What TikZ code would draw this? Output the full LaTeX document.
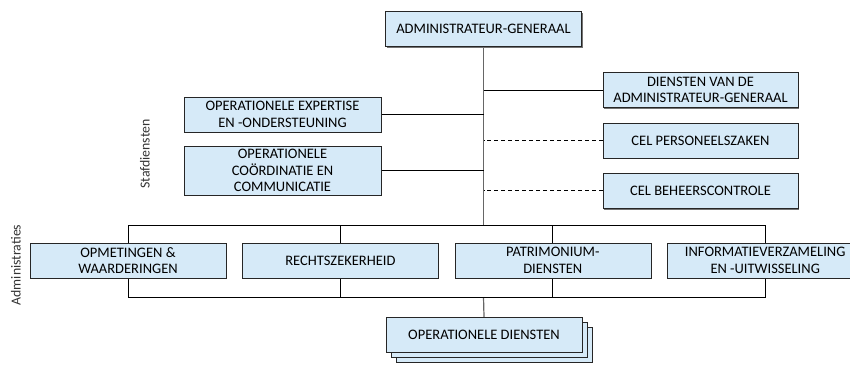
\documentclass[tikz,border=0pt]{standalone}
\usepackage{fontspec}
\setmainfont{Carlito}
\usepackage{xcolor}
\usepackage{tikz}
\usetikzlibrary{positioning,shadows,backgrounds}
\definecolor{boxblue}{RGB}{214,234,248}
\tikzset{
  org/.style    ={draw=black!85, rectangle, align=center, fill=boxblue, inner sep=0pt, minimum height=35pt, minimum width=196pt, font=\fontsize{14.5}{16.5}\selectfont, drop shadow={shadow xshift=1pt, shadow yshift=-1.2pt, fill=black!55, opacity=1}},
  stack/.style  ={draw=black!85, rectangle, align=center, fill=boxblue, inner sep=0pt, minimum height=35pt, minimum width=196pt, font=\fontsize{14.5}{16.5}\selectfont, double copy shadow={shadow xshift=5pt, shadow yshift=-5pt}},
  grp/.style    ={rotate=90, font=\fontsize{13.8}{15}\selectfont, text=black!80},
  trunk/.style  ={draw=black!60, line width=1.2pt},
  link/.style   ={draw=black, line width=0.8pt},
  cel/.style    ={draw=black, line width=0.8pt, dash pattern=on 4pt off 3pt},
}
\begin{document}
\begin{tikzpicture}[x=1pt, y=-1pt, node distance=16pt and 16pt]
  \useasboundingbox (0,0) rectangle (850,367);
  \node[org] (ag) at (483.5,29) {ADMINISTRATEUR-GENERAAL};

  % stafdiensten
  \node[org, minimum width=197pt] (oe) at (282.5,114.5) {OPERATIONELE EXPERTISE\\EN -ONDERSTEUNING};
  \node[org, minimum width=197pt, minimum height=49pt] (oc) at (282.5,170.5) {OPERATIONELE\\CO\"ORDINATIE EN\\COMMUNICATIE};
  \node[org, minimum width=195pt] (dg) at (700.5,90) {DIENSTEN VAN DE\\ADMINISTRATEUR-GENERAAL};
  \node[org, minimum width=195pt, below=15pt of dg] (ps) {CEL PERSONEELSZAKEN};
  \node[org, minimum width=195pt, below=15pt of ps] (bc) {CEL BEHEERSCONTROLE};
  \node[grp] (staf) at (145,154) {Stafdiensten};

  % administraties
  \node[org] (ow) at (128,260.5) {OPMETINGEN \&\\WAARDERINGEN};
  \node[org, right=of ow] (rz) {RECHTSZEKERHEID};
  \node[org, right=of rz] (pd) {PATRIMONIUM-\\DIENSTEN};
  \node[org, right=of pd] (iv) {INFORMATIEVERZAMELING\\EN -UITWISSELING};
  \node[grp] (adm) at (16,265) {Administraties};

  \node[stack] (od) at (484,334.5) {OPERATIONELE DIENSTEN};

  \coordinate (topbar) at (0,225);
  \coordinate (botbar) at (0,297);

  \begin{scope}[on background layer]
    \draw[trunk] (ag.south) -- (ag.south |- topbar);
    \draw[trunk] (ag.south |- botbar) -- (od.north);
    \draw[link] (oe.east) -- (oe.east -| ag.south);
    \draw[link] (oc.east) -- (oc.east -| ag.south);
    \draw[link] (dg.west) -- (dg.west -| ag.south);
    \draw[cel] (ps.west) -- (ps.west -| ag.south);
    \draw[cel] (bc.west) -- (bc.west -| ag.south);
    \draw[link] (ow.north) -- (ow.north |- topbar) -- (iv.north |- topbar) -- (iv.north);
    \draw[link] (rz.north) -- (rz.north |- topbar);
    \draw[link] (pd.north) -- (pd.north |- topbar);
    \draw[link] (ow.south) -- (ow.south |- botbar) -- (iv.south |- botbar) -- (iv.south);
    \draw[link] (rz.south) -- (rz.south |- botbar);
    \draw[link] (pd.south) -- (pd.south |- botbar);
  \end{scope}
\end{tikzpicture}
\end{document}
